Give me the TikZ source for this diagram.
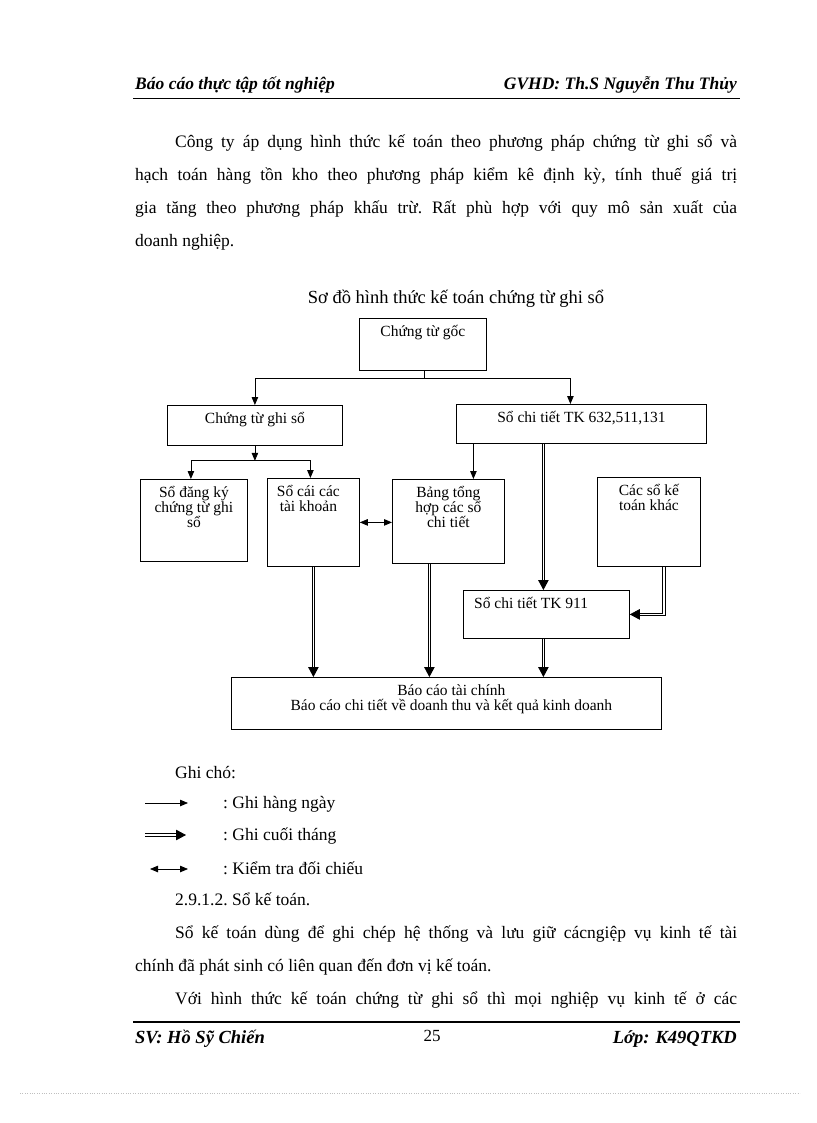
\documentclass[tikz,border=0pt]{standalone}
\usepackage{fontspec}
\setmainfont{Liberation Serif}
\usetikzlibrary{arrows.meta}

\newcommand{\bodyfont}{\fontsize{17.5}{33}\selectfont\frenchspacing}
\newcommand{\boxfont}{\fontsize{15.5}{15}\selectfont}
\newcommand{\jline}[2]{\makebox[#1][s]{#2}}

\begin{document}
\begin{tikzpicture}[x=1pt, y=-1pt,
    box/.style={draw, line width=0.8pt, inner sep=0pt, anchor=north west},
    boxtext/.style={font=\boxfont, align=center, anchor=base, inner sep=0pt, yshift=-18.5pt},
    twolines/.style={yshift=-15pt},
    threelines/.style={yshift=-30pt},
    bodyline/.style={font=\bodyfont, anchor=base west, inner sep=0pt},
    conn/.style={line width=0.8pt},
    daily/.style={conn, -{Triangle[length=8pt,width=6.5pt]}},
    monthly/.style={conn, double, double distance=1.6pt, -{Triangle[length=10pt,width=10.5pt]}},
    check/.style={conn, {Triangle[length=8pt,width=6.5pt]}-{Triangle[length=8pt,width=6.5pt]}}]

    \useasboundingbox (0,0) rectangle (816,1123);

    % header and footer
    \node [font=\fontsize{17.5}{20}\selectfont\bfseries\itshape, anchor=base west, inner sep=0pt] (hleft) at (135,90) {Báo cáo thực tập tốt nghiệp};
    \node [font=\fontsize{17.5}{20}\selectfont\bfseries\itshape, anchor=base east, inner sep=0pt] (hright) at (737,90) {GVHD:\ Th.S Nguyễn\ Thu\ Thủy};
    \draw [line width=0.8pt] (133,98) -- (740,98);
    \draw [line width=2.5pt] (133,1022) -- (740,1022);
    \node [font=\fontsize{18.5}{20}\selectfont\bfseries\itshape, anchor=base west, inner sep=0pt] (fleft) at (135,1043) {SV: Hồ Sỹ Chiến};
    \node [font=\fontsize{17}{20}\selectfont, anchor=base, inner sep=0pt] (fpage) at (432,1041) {25};
    \node [font=\fontsize{18.5}{20}\selectfont\bfseries\itshape, anchor=base east, inner sep=0pt] (fright) at (737,1043) {Lớp: K49QTKD};
    \draw [black!25, dotted] (20,1093) -- (800,1093);

    % text above the chart
    \node [bodyline] (p1) at (175,148) {\jline{562pt}{Công ty áp dụng hình thức kế toán theo phương pháp chứng từ ghi sổ và}};
    \node [bodyline] (p2) at (135,181) {\jline{602pt}{hạch toán hàng tồn kho theo phương pháp kiểm kê định kỳ, tính thuế giá trị}};
    \node [bodyline] (p3) at (135,214) {\jline{602pt}{gia tăng theo phương pháp khấu trừ. Rất phù hợp với quy mô sản xuất của}};
    \node [bodyline] (p4) at (135,246) {doanh nghiệp.};
    \node [font=\fontsize{18.5}{33}\selectfont, anchor=base, inner sep=0pt] (title) at (456,303) {Sơ đồ hình thức kế toán chứng từ ghi sổ};

    % boxes
    \node [box, minimum width=127pt, minimum height=52pt] (goc) at (359,318) {};
    \node [box, minimum width=175pt, minimum height=40pt] (ctgs) at (167,405) {};
    \node [box, minimum width=250pt, minimum height=39pt] (sct) at (456,404) {};
    \node [box, minimum width=107pt, minimum height=82pt] (dangky) at (140,479) {};
    \node [box, minimum width=92pt, minimum height=88pt] (socai) at (267,478) {};
    \node [box, minimum width=112pt, minimum height=84pt] (bangth) at (392,479) {};
    \node [box, minimum width=103pt, minimum height=89pt] (khac) at (597,477) {};
    \node [box, minimum width=166pt, minimum height=48pt] (tk911) at (463,590) {};
    \node [box, minimum width=430pt, minimum height=52pt] (bctc) at (231,677) {};

    \node [boxtext] (goct) at (goc.north) {Chứng từ gốc};
    \node [boxtext] (ctgst) at (ctgs.north) {Chứng từ ghi sổ};
    \node [boxtext] (sctt) at (sct.north) {Sổ chi tiết TK 632,511,131};
    \node [boxtext, threelines] (dangkyt) at (dangky.north) {Sổ đăng ký\\chứng từ ghi\\sổ};
    \node [boxtext, twolines, xshift=-5pt] (socait) at (socai.north) {Sổ cái các\\tài khoản};
    \node [boxtext, threelines] (bangtht) at (bangth.north) {Bảng tổng\\hợp các sổ\\chi tiết};
    \node [boxtext, twolines] (khact) at (khac.north) {Các sổ kế\\toán khác};
    \node [boxtext, anchor=base west, xshift=11pt] (tk911t) at (tk911.north west) {Sổ chi tiết TK 911};
    \node [boxtext, twolines, xshift=5pt] (bctct) at (bctc.north) {Báo cáo tài chính\\Báo cáo chi tiết về doanh thu và kết quả kinh doanh};

    % connectors
    \coordinate (s1) at (424,378);
    \draw [conn] (goc.south -| s1) -- (s1);
    \draw [daily] (s1) -| (ctgs.north);
    \draw [daily] (s1) -| ([xshift=-11pt]sct.north);
    \coordinate (s2) at ([yshift=-15pt]ctgs.south);
    \draw [daily] (ctgs.south) -- (s2);
    \draw [daily] (s2) -| ([xshift=-3pt]dangky.north);
    \draw [daily] (s2) -| ([xshift=-3pt]socai.north);
    \coordinate (a1) at ([xshift=25pt]bangth.north);
    \draw [daily] (a1 |- sct.south) -- (a1);
    \draw [check] (socai.east) -- (socai.east -| bangth.west);
    \coordinate (a2) at ([xshift=-3pt]tk911.north);
    \draw [monthly] (a2 |- sct.south) -- (a2);
    \draw [monthly] ([xshift=15pt]khac.south) |- (tk911.east);
    \draw [monthly] (socai.south) -- (socai.south |- bctc.north);
    \coordinate (a3) at ([xshift=-19pt]bangth.south);
    \draw [monthly] (a3) -- (a3 |- bctc.north);
    \coordinate (a4) at ([xshift=-3pt]tk911.south);
    \draw [monthly] (a4) -- (a4 |- bctc.north);

    % legend
    \node [bodyline] (ghichu) at (175,778) {Ghi chó:};
    \coordinate (l1a) at (145,803); \coordinate (l1b) at (188,803);
    \coordinate (l2a) at (145,835); \coordinate (l2b) at (186,835);
    \coordinate (l3a) at (150,869); \coordinate (l3b) at (188,869);
    \draw [daily] (l1a) -- (l1b);
    \draw [monthly] (l2a) -- (l2b);
    \draw [check] (l3a) -- (l3b);
    \node [bodyline] (leg1) at (223,808) {: Ghi hàng ngày};
    \node [bodyline] (leg2) at (223,840) {: Ghi cuối tháng};
    \node [bodyline] (leg3) at (223,874) {: Kiểm tra đối chiếu};

    % text below the chart
    \node [bodyline] (p5) at (175,905) {2.9.1.2. Sổ kế toán.};
    \node [bodyline] (p6) at (175,938) {\jline{562pt}{Sổ kế toán dùng để ghi chép hệ thống và lưu giữ cácngiệp vụ kinh tế tài}};
    \node [bodyline] (p7) at (135,971) {chính đã phát sinh có liên quan đến đơn vị kế toán.};
    \node [bodyline] (p8) at (175,1004) {\jline{562pt}{Với hình thức kế toán chứng từ ghi sổ thì mọi nghiệp vụ kinh tế ở các}};
\end{tikzpicture}
\end{document}
